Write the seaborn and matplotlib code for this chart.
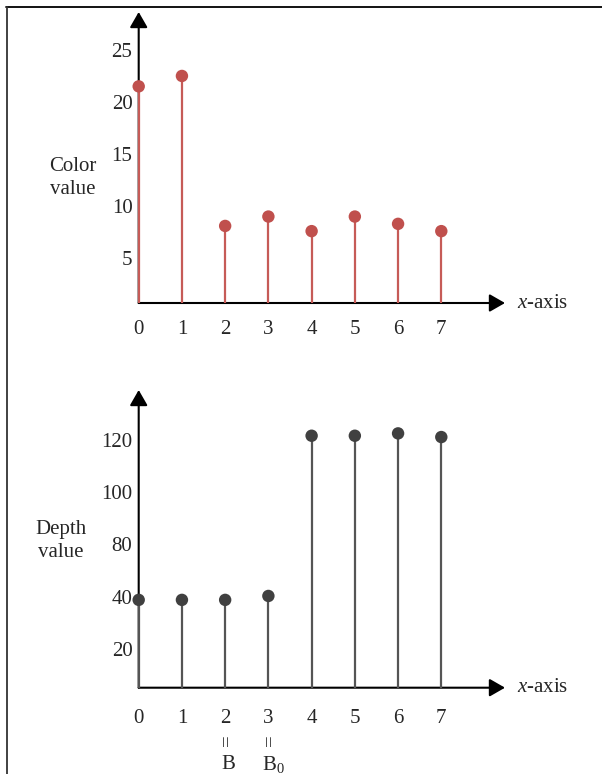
import numpy as np
import pandas as pd
import matplotlib
matplotlib.use("Agg")
import matplotlib.pyplot as plt
import seaborn as sns
from matplotlib.lines import Line2D

# ---------------- data ----------------
positions = [0, 1, 2, 3, 4, 5, 6, 7]
x_tick_labels = ["0", "1", "2", "3", "4", "5", "6", "7"]
color_values = [21.5, 22.5, 8.1, 9.0, 7.6, 9.0, 8.3, 7.6]
depth_values = [38.8, 38.8, 38.8, 40.6, 121.6, 121.6, 122.5, 121.1]
color_yticks = [5, 10, 15, 20, 25]
depth_yticks = [20, 40, 80, 100, 120]
color_ylabel = "Color\nvalue"
depth_ylabel = "Depth\nvalue"
xaxis_label = r"$x$-axis"
marks = [(2, "B"), (3, r"$\mathrm{B}_0$")]

RED_DOT, RED_STEM = "#C0504D", "#C65B57"
GRAY_DOT, GRAY_STEM = "#404040", "#555555"

sns.set_style("white")
plt.rcParams["font.family"] = ["Liberation Serif", "DejaVu Serif"]
plt.rcParams["mathtext.fontset"] = "custom"
plt.rcParams["mathtext.rm"] = "Liberation Serif"
plt.rcParams["mathtext.it"] = "Liberation Serif:italic"
FS = 15

W, H = 602, 774
fig = plt.figure(figsize=(W / 100, H / 100), dpi=100)

def px_axes(left, right, top, bottom):
    return fig.add_axes([left / W, 1 - bottom / H, (right - left) / W, (bottom - top) / H])

x0_px, x7_px, tip_px = 138.7, 441.3, 505
unit = (x7_px - x0_px) / 7
xmax = (tip_px - x0_px) / unit

# piecewise scale for the depth axis (labels are evenly spaced slots)
knot_v = [-200] + depth_yticks + [320]
knot_s = [1 - 11] + list(range(1, len(depth_yticks) + 1)) + [len(depth_yticks) + 10]
def fwd(v):
    return np.interp(v, knot_v, knot_s)
def inv(s):
    return np.interp(s, knot_s, knot_v)

def draw_panel(ax, values, dot_c, stem_c, yticks, ylim, xpad):
    ax.set_xlim(0, xmax)
    ax.set_ylim(*ylim)
    for s in ax.spines.values():
        s.set_visible(False)
    df = pd.DataFrame({"x": positions, "y": values})
    ax.vlines(df["x"], ylim[0], df["y"], color=stem_c, lw=1.6, zorder=3, clip_on=False)
    sns.scatterplot(data=df, x="x", y="y", ax=ax, color=dot_c, s=80,
                    edgecolor="none", zorder=4, clip_on=False, legend=False)
    ax.set_xlabel("")
    ax.set_ylabel("")
    ax.set_xticks(positions, x_tick_labels)
    ax.set_yticks(yticks, [str(t) for t in yticks])
    ax.tick_params(axis="x", length=0, pad=xpad, labelsize=FS)
    ax.tick_params(axis="y", length=0, pad=4.5, labelsize=FS)
    ax.grid(False)
    ap = dict(arrowstyle="-|>,head_length=0.47,head_width=0.27", lw=1.5,
              color="black", shrinkA=0, shrinkB=0, mutation_scale=20)
    ax.annotate("", xy=(0, 1), xytext=(0, 0), xycoords="axes fraction",
                arrowprops=ap, zorder=2, annotation_clip=False)
    ax.annotate("", xy=(1, 0), xytext=(0, 0), xycoords="axes fraction",
                arrowprops=ap, zorder=2, annotation_clip=False)
    ax.annotate(xaxis_label, xy=(1, 0), xycoords="axes fraction",
                xytext=(12, 0), textcoords="offset pixels",
                ha="left", va="center", fontsize=FS, annotation_clip=False)

# top panel
ax1 = px_axes(x0_px, tip_px, 12, 303)
draw_panel(ax1, color_values, RED_DOT, RED_STEM, color_yticks, (0.70, 28.64), 12.0)
fig.text(73 / W, 1 - 178 / H, color_ylabel, ha="center", va="center",
         fontsize=FS, linespacing=1.25)

# bottom panel
ax2 = px_axes(x0_px, tip_px, 390, 687.7)
ax2.set_yscale("function", functions=(fwd, inv))
draw_panel(ax2, depth_values, GRAY_DOT, GRAY_STEM, depth_yticks, (5.2, 139.1), 15.6)
fig.text(61 / W, 1 - 541 / H, depth_ylabel, ha="center", va="center",
         fontsize=FS, linespacing=1.25)

for xv, lab in marks:
    ax2.annotate("=", xy=(xv, 5.2), xycoords="data", xytext=(2, -52),
                 textcoords="offset pixels", ha="center", va="center",
                 rotation=90, fontsize=15, annotation_clip=False)
    ax2.annotate(lab, xy=(xv, 5.2), xycoords="data",
                 xytext=(5 if "0" in lab else 3, -77),
                 textcoords="offset pixels", ha="center", va="center",
                 fontsize=FS, annotation_clip=False)

# frame lines (top and left)
fig.add_artist(Line2D([6 / W, 1], [1 - 7 / H, 1 - 7 / H], transform=fig.transFigure,
                      color="black", lw=1.3))
fig.add_artist(Line2D([6.5 / W, 6.5 / W], [0, 1 - 7 / H], transform=fig.transFigure,
                      color="#333333", lw=1.3))

fig.savefig("out.png", dpi=100)
